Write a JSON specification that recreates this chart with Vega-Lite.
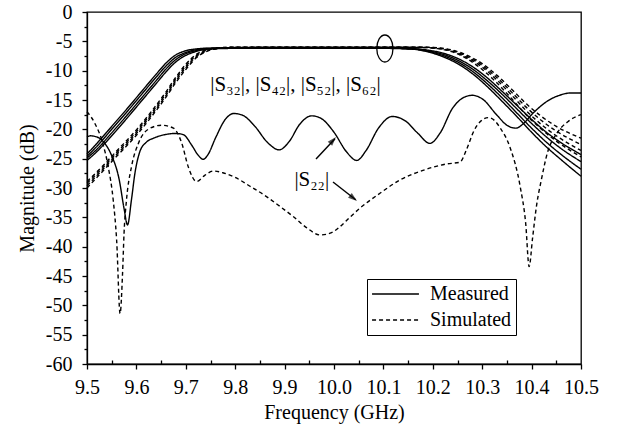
{
  "$schema": "https://vega.github.io/schema/vega-lite/v6.json",
  "width": 494,
  "height": 352,
  "autosize": "none",
  "padding": {"left": 87, "top": 12, "right": 40, "bottom": 68},
  "background": "white",
  "config": {
    "view": {"stroke": "black", "strokeWidth": 1.3},
    "font": "Liberation Serif",
    "axis": {
      "domainColor": "black", "domainWidth": 1.3, "tickColor": "black", "tickWidth": 1.3,
      "labelColor": "black", "titleColor": "black", "labelFont": "Liberation Serif", "titleFont": "Liberation Serif",
      "labelFontSize": 20, "titleFontSize": 20, "titleFontWeight": "normal", "grid": false
    }
  },
  "resolve": {"axis": {"x": "independent", "y": "independent"}},
  "datasets": {
    "curves": [
      {"curve":"M32","type":"Measured","freq":9.50,"mag":-24.2},{"curve":"M32","type":"Measured","freq":9.52,"mag":-22.4},{"curve":"M32","type":"Measured","freq":9.55,"mag":-19.5},{"curve":"M32","type":"Measured","freq":9.58,"mag":-16.6},{"curve":"M32","type":"Measured","freq":9.61,"mag":-13.6},{"curve":"M32","type":"Measured","freq":9.64,"mag":-10.6},{"curve":"M32","type":"Measured","freq":9.66,"mag":-8.7},{"curve":"M32","type":"Measured","freq":9.68,"mag":-7.3},{"curve":"M32","type":"Measured","freq":9.70,"mag":-6.6},{"curve":"M32","type":"Measured","freq":9.72,"mag":-6.3},{"curve":"M32","type":"Measured","freq":9.75,"mag":-6.15},{"curve":"M32","type":"Measured","freq":9.80,"mag":-6.1},{"curve":"M32","type":"Measured","freq":9.90,"mag":-6.1},{"curve":"M32","type":"Measured","freq":10.00,"mag":-6.1},{"curve":"M32","type":"Measured","freq":10.10,"mag":-6.15},{"curve":"M32","type":"Measured","freq":10.16,"mag":-6.25},{"curve":"M32","type":"Measured","freq":10.19,"mag":-6.5},{"curve":"M32","type":"Measured","freq":10.22,"mag":-7.0},{"curve":"M32","type":"Measured","freq":10.25,"mag":-7.9},{"curve":"M32","type":"Measured","freq":10.28,"mag":-9.3},{"curve":"M32","type":"Measured","freq":10.31,"mag":-11.2},{"curve":"M32","type":"Measured","freq":10.34,"mag":-13.5},{"curve":"M32","type":"Measured","freq":10.37,"mag":-15.9},{"curve":"M32","type":"Measured","freq":10.40,"mag":-18.3},{"curve":"M32","type":"Measured","freq":10.43,"mag":-20.5},{"curve":"M32","type":"Measured","freq":10.46,"mag":-22.3},{"curve":"M32","type":"Measured","freq":10.50,"mag":-24.3},
      {"curve":"M42","type":"Measured","freq":9.50,"mag":-24.6},{"curve":"M42","type":"Measured","freq":9.52,"mag":-22.9},{"curve":"M42","type":"Measured","freq":9.55,"mag":-20.0},{"curve":"M42","type":"Measured","freq":9.58,"mag":-17.1},{"curve":"M42","type":"Measured","freq":9.61,"mag":-14.1},{"curve":"M42","type":"Measured","freq":9.64,"mag":-11.1},{"curve":"M42","type":"Measured","freq":9.66,"mag":-9.2},{"curve":"M42","type":"Measured","freq":9.68,"mag":-7.7},{"curve":"M42","type":"Measured","freq":9.70,"mag":-6.9},{"curve":"M42","type":"Measured","freq":9.72,"mag":-6.45},{"curve":"M42","type":"Measured","freq":9.75,"mag":-6.2},{"curve":"M42","type":"Measured","freq":9.80,"mag":-6.15},{"curve":"M42","type":"Measured","freq":9.90,"mag":-6.15},{"curve":"M42","type":"Measured","freq":10.00,"mag":-6.15},{"curve":"M42","type":"Measured","freq":10.10,"mag":-6.15},{"curve":"M42","type":"Measured","freq":10.16,"mag":-6.3},{"curve":"M42","type":"Measured","freq":10.19,"mag":-6.6},{"curve":"M42","type":"Measured","freq":10.22,"mag":-7.2},{"curve":"M42","type":"Measured","freq":10.25,"mag":-8.2},{"curve":"M42","type":"Measured","freq":10.28,"mag":-9.7},{"curve":"M42","type":"Measured","freq":10.31,"mag":-11.7},{"curve":"M42","type":"Measured","freq":10.34,"mag":-14.0},{"curve":"M42","type":"Measured","freq":10.37,"mag":-16.5},{"curve":"M42","type":"Measured","freq":10.40,"mag":-19.0},{"curve":"M42","type":"Measured","freq":10.43,"mag":-21.3},{"curve":"M42","type":"Measured","freq":10.46,"mag":-23.3},{"curve":"M42","type":"Measured","freq":10.50,"mag":-25.5},
      {"curve":"M52","type":"Measured","freq":9.50,"mag":-24.9},{"curve":"M52","type":"Measured","freq":9.52,"mag":-23.4},{"curve":"M52","type":"Measured","freq":9.55,"mag":-20.6},{"curve":"M52","type":"Measured","freq":9.58,"mag":-17.7},{"curve":"M52","type":"Measured","freq":9.61,"mag":-14.7},{"curve":"M52","type":"Measured","freq":9.64,"mag":-11.7},{"curve":"M52","type":"Measured","freq":9.66,"mag":-9.7},{"curve":"M52","type":"Measured","freq":9.68,"mag":-8.1},{"curve":"M52","type":"Measured","freq":9.70,"mag":-7.1},{"curve":"M52","type":"Measured","freq":9.72,"mag":-6.6},{"curve":"M52","type":"Measured","freq":9.75,"mag":-6.25},{"curve":"M52","type":"Measured","freq":9.80,"mag":-6.15},{"curve":"M52","type":"Measured","freq":9.90,"mag":-6.15},{"curve":"M52","type":"Measured","freq":10.00,"mag":-6.15},{"curve":"M52","type":"Measured","freq":10.10,"mag":-6.15},{"curve":"M52","type":"Measured","freq":10.16,"mag":-6.3},{"curve":"M52","type":"Measured","freq":10.19,"mag":-6.7},{"curve":"M52","type":"Measured","freq":10.22,"mag":-7.4},{"curve":"M52","type":"Measured","freq":10.25,"mag":-8.5},{"curve":"M52","type":"Measured","freq":10.28,"mag":-10.1},{"curve":"M52","type":"Measured","freq":10.31,"mag":-12.2},{"curve":"M52","type":"Measured","freq":10.34,"mag":-14.6},{"curve":"M52","type":"Measured","freq":10.37,"mag":-17.2},{"curve":"M52","type":"Measured","freq":10.40,"mag":-19.8},{"curve":"M52","type":"Measured","freq":10.43,"mag":-22.2},{"curve":"M52","type":"Measured","freq":10.46,"mag":-24.3},{"curve":"M52","type":"Measured","freq":10.50,"mag":-26.8},
      {"curve":"M62","type":"Measured","freq":9.50,"mag":-25.3},{"curve":"M62","type":"Measured","freq":9.52,"mag":-23.8},{"curve":"M62","type":"Measured","freq":9.55,"mag":-21.1},{"curve":"M62","type":"Measured","freq":9.58,"mag":-18.2},{"curve":"M62","type":"Measured","freq":9.61,"mag":-15.2},{"curve":"M62","type":"Measured","freq":9.64,"mag":-12.2},{"curve":"M62","type":"Measured","freq":9.66,"mag":-10.2},{"curve":"M62","type":"Measured","freq":9.68,"mag":-8.5},{"curve":"M62","type":"Measured","freq":9.70,"mag":-7.4},{"curve":"M62","type":"Measured","freq":9.72,"mag":-6.75},{"curve":"M62","type":"Measured","freq":9.75,"mag":-6.3},{"curve":"M62","type":"Measured","freq":9.80,"mag":-6.2},{"curve":"M62","type":"Measured","freq":9.90,"mag":-6.2},{"curve":"M62","type":"Measured","freq":10.00,"mag":-6.2},{"curve":"M62","type":"Measured","freq":10.10,"mag":-6.2},{"curve":"M62","type":"Measured","freq":10.16,"mag":-6.35},{"curve":"M62","type":"Measured","freq":10.19,"mag":-6.8},{"curve":"M62","type":"Measured","freq":10.22,"mag":-7.6},{"curve":"M62","type":"Measured","freq":10.25,"mag":-8.8},{"curve":"M62","type":"Measured","freq":10.28,"mag":-10.5},{"curve":"M62","type":"Measured","freq":10.31,"mag":-12.7},{"curve":"M62","type":"Measured","freq":10.34,"mag":-15.2},{"curve":"M62","type":"Measured","freq":10.37,"mag":-17.8},{"curve":"M62","type":"Measured","freq":10.40,"mag":-20.5},{"curve":"M62","type":"Measured","freq":10.43,"mag":-23.0},{"curve":"M62","type":"Measured","freq":10.46,"mag":-25.2},{"curve":"M62","type":"Measured","freq":10.50,"mag":-28.0},
      {"curve":"S32","type":"Simulated","freq":9.50,"mag":-28.9},{"curve":"S32","type":"Simulated","freq":9.53,"mag":-26.4},{"curve":"S32","type":"Simulated","freq":9.56,"mag":-23.7},{"curve":"S32","type":"Simulated","freq":9.60,"mag":-20.1},{"curve":"S32","type":"Simulated","freq":9.63,"mag":-17.0},{"curve":"S32","type":"Simulated","freq":9.66,"mag":-13.6},{"curve":"S32","type":"Simulated","freq":9.68,"mag":-11.1},{"curve":"S32","type":"Simulated","freq":9.70,"mag":-8.9},{"curve":"S32","type":"Simulated","freq":9.72,"mag":-7.3},{"curve":"S32","type":"Simulated","freq":9.74,"mag":-6.5},{"curve":"S32","type":"Simulated","freq":9.76,"mag":-6.15},{"curve":"S32","type":"Simulated","freq":9.80,"mag":-6.0},{"curve":"S32","type":"Simulated","freq":9.90,"mag":-6.0},{"curve":"S32","type":"Simulated","freq":10.00,"mag":-6.0},{"curve":"S32","type":"Simulated","freq":10.10,"mag":-6.0},{"curve":"S32","type":"Simulated","freq":10.18,"mag":-6.0},{"curve":"S32","type":"Simulated","freq":10.21,"mag":-6.1},{"curve":"S32","type":"Simulated","freq":10.24,"mag":-6.5},{"curve":"S32","type":"Simulated","freq":10.27,"mag":-7.4},{"curve":"S32","type":"Simulated","freq":10.30,"mag":-8.8},{"curve":"S32","type":"Simulated","freq":10.33,"mag":-10.8},{"curve":"S32","type":"Simulated","freq":10.36,"mag":-13.2},{"curve":"S32","type":"Simulated","freq":10.39,"mag":-15.7},{"curve":"S32","type":"Simulated","freq":10.42,"mag":-17.8},{"curve":"S32","type":"Simulated","freq":10.45,"mag":-19.5},{"curve":"S32","type":"Simulated","freq":10.50,"mag":-21.5},
      {"curve":"S42","type":"Simulated","freq":9.50,"mag":-29.2},{"curve":"S42","type":"Simulated","freq":9.53,"mag":-26.7},{"curve":"S42","type":"Simulated","freq":9.56,"mag":-24.0},{"curve":"S42","type":"Simulated","freq":9.60,"mag":-20.4},{"curve":"S42","type":"Simulated","freq":9.63,"mag":-17.3},{"curve":"S42","type":"Simulated","freq":9.66,"mag":-13.9},{"curve":"S42","type":"Simulated","freq":9.68,"mag":-11.4},{"curve":"S42","type":"Simulated","freq":9.70,"mag":-9.2},{"curve":"S42","type":"Simulated","freq":9.72,"mag":-7.5},{"curve":"S42","type":"Simulated","freq":9.74,"mag":-6.6},{"curve":"S42","type":"Simulated","freq":9.76,"mag":-6.2},{"curve":"S42","type":"Simulated","freq":9.80,"mag":-6.0},{"curve":"S42","type":"Simulated","freq":9.90,"mag":-6.0},{"curve":"S42","type":"Simulated","freq":10.00,"mag":-6.0},{"curve":"S42","type":"Simulated","freq":10.10,"mag":-6.0},{"curve":"S42","type":"Simulated","freq":10.18,"mag":-6.0},{"curve":"S42","type":"Simulated","freq":10.21,"mag":-6.15},{"curve":"S42","type":"Simulated","freq":10.24,"mag":-6.6},{"curve":"S42","type":"Simulated","freq":10.27,"mag":-7.6},{"curve":"S42","type":"Simulated","freq":10.30,"mag":-9.1},{"curve":"S42","type":"Simulated","freq":10.33,"mag":-11.2},{"curve":"S42","type":"Simulated","freq":10.36,"mag":-13.7},{"curve":"S42","type":"Simulated","freq":10.39,"mag":-16.3},{"curve":"S42","type":"Simulated","freq":10.42,"mag":-18.5},{"curve":"S42","type":"Simulated","freq":10.45,"mag":-20.3},{"curve":"S42","type":"Simulated","freq":10.50,"mag":-22.6},
      {"curve":"S52","type":"Simulated","freq":9.50,"mag":-29.6},{"curve":"S52","type":"Simulated","freq":9.53,"mag":-27.0},{"curve":"S52","type":"Simulated","freq":9.56,"mag":-24.3},{"curve":"S52","type":"Simulated","freq":9.60,"mag":-20.7},{"curve":"S52","type":"Simulated","freq":9.63,"mag":-17.6},{"curve":"S52","type":"Simulated","freq":9.66,"mag":-14.2},{"curve":"S52","type":"Simulated","freq":9.68,"mag":-11.7},{"curve":"S52","type":"Simulated","freq":9.70,"mag":-9.5},{"curve":"S52","type":"Simulated","freq":9.72,"mag":-7.7},{"curve":"S52","type":"Simulated","freq":9.74,"mag":-6.7},{"curve":"S52","type":"Simulated","freq":9.76,"mag":-6.25},{"curve":"S52","type":"Simulated","freq":9.80,"mag":-6.05},{"curve":"S52","type":"Simulated","freq":9.90,"mag":-6.0},{"curve":"S52","type":"Simulated","freq":10.00,"mag":-6.0},{"curve":"S52","type":"Simulated","freq":10.10,"mag":-6.0},{"curve":"S52","type":"Simulated","freq":10.18,"mag":-6.05},{"curve":"S52","type":"Simulated","freq":10.21,"mag":-6.2},{"curve":"S52","type":"Simulated","freq":10.24,"mag":-6.7},{"curve":"S52","type":"Simulated","freq":10.27,"mag":-7.8},{"curve":"S52","type":"Simulated","freq":10.30,"mag":-9.4},{"curve":"S52","type":"Simulated","freq":10.33,"mag":-11.6},{"curve":"S52","type":"Simulated","freq":10.36,"mag":-14.2},{"curve":"S52","type":"Simulated","freq":10.39,"mag":-16.9},{"curve":"S52","type":"Simulated","freq":10.42,"mag":-19.2},{"curve":"S52","type":"Simulated","freq":10.45,"mag":-21.1},{"curve":"S52","type":"Simulated","freq":10.50,"mag":-23.6},
      {"curve":"S62","type":"Simulated","freq":9.50,"mag":-30.0},{"curve":"S62","type":"Simulated","freq":9.53,"mag":-27.3},{"curve":"S62","type":"Simulated","freq":9.56,"mag":-24.6},{"curve":"S62","type":"Simulated","freq":9.60,"mag":-21.0},{"curve":"S62","type":"Simulated","freq":9.63,"mag":-17.9},{"curve":"S62","type":"Simulated","freq":9.66,"mag":-14.5},{"curve":"S62","type":"Simulated","freq":9.68,"mag":-12.0},{"curve":"S62","type":"Simulated","freq":9.70,"mag":-9.8},{"curve":"S62","type":"Simulated","freq":9.72,"mag":-7.9},{"curve":"S62","type":"Simulated","freq":9.74,"mag":-6.8},{"curve":"S62","type":"Simulated","freq":9.76,"mag":-6.3},{"curve":"S62","type":"Simulated","freq":9.80,"mag":-6.05},{"curve":"S62","type":"Simulated","freq":9.90,"mag":-6.0},{"curve":"S62","type":"Simulated","freq":10.00,"mag":-6.0},{"curve":"S62","type":"Simulated","freq":10.10,"mag":-6.0},{"curve":"S62","type":"Simulated","freq":10.18,"mag":-6.05},{"curve":"S62","type":"Simulated","freq":10.21,"mag":-6.25},{"curve":"S62","type":"Simulated","freq":10.24,"mag":-6.8},{"curve":"S62","type":"Simulated","freq":10.27,"mag":-8.0},{"curve":"S62","type":"Simulated","freq":10.30,"mag":-9.8},{"curve":"S62","type":"Simulated","freq":10.33,"mag":-12.1},{"curve":"S62","type":"Simulated","freq":10.36,"mag":-14.8},{"curve":"S62","type":"Simulated","freq":10.39,"mag":-17.6},{"curve":"S62","type":"Simulated","freq":10.42,"mag":-20.0},{"curve":"S62","type":"Simulated","freq":10.45,"mag":-22.0},{"curve":"S62","type":"Simulated","freq":10.50,"mag":-24.7},
      {"curve":"M22","type":"Measured","freq":9.500,"mag":-21.3},{"curve":"M22","type":"Measured","freq":9.507,"mag":-21.1},{"curve":"M22","type":"Measured","freq":9.520,"mag":-21.3},{"curve":"M22","type":"Measured","freq":9.533,"mag":-22.1},{"curve":"M22","type":"Measured","freq":9.550,"mag":-24.5},{"curve":"M22","type":"Measured","freq":9.565,"mag":-28.5},{"curve":"M22","type":"Measured","freq":9.575,"mag":-33.5},{"curve":"M22","type":"Measured","freq":9.582,"mag":-36.3},{"curve":"M22","type":"Measured","freq":9.590,"mag":-32.0},{"curve":"M22","type":"Measured","freq":9.597,"mag":-27.5},{"curve":"M22","type":"Measured","freq":9.607,"mag":-23.8},{"curve":"M22","type":"Measured","freq":9.620,"mag":-22.2},{"curve":"M22","type":"Measured","freq":9.635,"mag":-21.5},{"curve":"M22","type":"Measured","freq":9.658,"mag":-20.9},{"curve":"M22","type":"Measured","freq":9.680,"mag":-20.7},{"curve":"M22","type":"Measured","freq":9.695,"mag":-20.9},{"curve":"M22","type":"Measured","freq":9.712,"mag":-22.7},{"curve":"M22","type":"Measured","freq":9.725,"mag":-24.4},{"curve":"M22","type":"Measured","freq":9.735,"mag":-25.1},{"curve":"M22","type":"Measured","freq":9.745,"mag":-24.3},{"curve":"M22","type":"Measured","freq":9.760,"mag":-21.5},{"curve":"M22","type":"Measured","freq":9.780,"mag":-18.3},{"curve":"M22","type":"Measured","freq":9.797,"mag":-17.3},{"curve":"M22","type":"Measured","freq":9.815,"mag":-17.6},{"curve":"M22","type":"Measured","freq":9.840,"mag":-19.5},{"curve":"M22","type":"Measured","freq":9.865,"mag":-22.2},{"curve":"M22","type":"Measured","freq":9.889,"mag":-23.5},{"curve":"M22","type":"Measured","freq":9.910,"mag":-22.0},{"curve":"M22","type":"Measured","freq":9.930,"mag":-19.2},{"curve":"M22","type":"Measured","freq":9.955,"mag":-17.7},{"curve":"M22","type":"Measured","freq":9.975,"mag":-18.2},{"curve":"M22","type":"Measured","freq":10.000,"mag":-20.5},{"curve":"M22","type":"Measured","freq":10.025,"mag":-23.8},{"curve":"M22","type":"Measured","freq":10.046,"mag":-25.3},{"curve":"M22","type":"Measured","freq":10.065,"mag":-23.6},{"curve":"M22","type":"Measured","freq":10.090,"mag":-19.8},{"curve":"M22","type":"Measured","freq":10.118,"mag":-17.8},{"curve":"M22","type":"Measured","freq":10.145,"mag":-18.6},{"curve":"M22","type":"Measured","freq":10.170,"mag":-20.7},{"curve":"M22","type":"Measured","freq":10.194,"mag":-22.4},{"curve":"M22","type":"Measured","freq":10.215,"mag":-20.6},{"curve":"M22","type":"Measured","freq":10.240,"mag":-16.4},{"curve":"M22","type":"Measured","freq":10.262,"mag":-14.6},{"curve":"M22","type":"Measured","freq":10.280,"mag":-14.2},{"curve":"M22","type":"Measured","freq":10.300,"mag":-14.8},{"curve":"M22","type":"Measured","freq":10.330,"mag":-17.6},{"curve":"M22","type":"Measured","freq":10.350,"mag":-19.3},{"curve":"M22","type":"Measured","freq":10.368,"mag":-19.8},{"curve":"M22","type":"Measured","freq":10.385,"mag":-18.9},{"curve":"M22","type":"Measured","freq":10.400,"mag":-17.5},{"curve":"M22","type":"Measured","freq":10.430,"mag":-15.3},{"curve":"M22","type":"Measured","freq":10.460,"mag":-14.1},{"curve":"M22","type":"Measured","freq":10.480,"mag":-13.8},{"curve":"M22","type":"Measured","freq":10.500,"mag":-13.8},
      {"curve":"S22","type":"Simulated","freq":9.500,"mag":-17.0},{"curve":"S22","type":"Simulated","freq":9.516,"mag":-19.0},{"curve":"S22","type":"Simulated","freq":9.532,"mag":-22.4},{"curve":"S22","type":"Simulated","freq":9.543,"mag":-26.4},{"curve":"S22","type":"Simulated","freq":9.553,"mag":-32.0},{"curve":"S22","type":"Simulated","freq":9.560,"mag":-38.9},{"curve":"S22","type":"Simulated","freq":9.567,"mag":-51.4},{"curve":"S22","type":"Simulated","freq":9.572,"mag":-44.5},{"curve":"S22","type":"Simulated","freq":9.575,"mag":-37.7},{"curve":"S22","type":"Simulated","freq":9.580,"mag":-32.0},{"curve":"S22","type":"Simulated","freq":9.590,"mag":-26.4},{"curve":"S22","type":"Simulated","freq":9.604,"mag":-22.4},{"curve":"S22","type":"Simulated","freq":9.624,"mag":-20.0},{"curve":"S22","type":"Simulated","freq":9.651,"mag":-19.3},{"curve":"S22","type":"Simulated","freq":9.675,"mag":-19.8},{"curve":"S22","type":"Simulated","freq":9.692,"mag":-22.4},{"curve":"S22","type":"Simulated","freq":9.705,"mag":-26.4},{"curve":"S22","type":"Simulated","freq":9.722,"mag":-28.9},{"curve":"S22","type":"Simulated","freq":9.739,"mag":-27.8},{"curve":"S22","type":"Simulated","freq":9.756,"mag":-27.1},{"curve":"S22","type":"Simulated","freq":9.775,"mag":-27.4},{"curve":"S22","type":"Simulated","freq":9.800,"mag":-28.2},{"curve":"S22","type":"Simulated","freq":9.830,"mag":-29.7},{"curve":"S22","type":"Simulated","freq":9.864,"mag":-31.5},{"curve":"S22","type":"Simulated","freq":9.890,"mag":-33.1},{"curve":"S22","type":"Simulated","freq":9.918,"mag":-34.9},{"curve":"S22","type":"Simulated","freq":9.945,"mag":-36.8},{"curve":"S22","type":"Simulated","freq":9.972,"mag":-38.0},{"curve":"S22","type":"Simulated","freq":9.995,"mag":-37.6},{"curve":"S22","type":"Simulated","freq":10.012,"mag":-36.6},{"curve":"S22","type":"Simulated","freq":10.032,"mag":-35.0},{"curve":"S22","type":"Simulated","freq":10.053,"mag":-33.4},{"curve":"S22","type":"Simulated","freq":10.093,"mag":-30.9},{"curve":"S22","type":"Simulated","freq":10.134,"mag":-28.6},{"curve":"S22","type":"Simulated","freq":10.180,"mag":-27.0},{"curve":"S22","type":"Simulated","freq":10.228,"mag":-25.9},{"curve":"S22","type":"Simulated","freq":10.255,"mag":-25.6},{"curve":"S22","type":"Simulated","freq":10.268,"mag":-23.5},{"curve":"S22","type":"Simulated","freq":10.283,"mag":-20.3},{"curve":"S22","type":"Simulated","freq":10.297,"mag":-18.6},{"curve":"S22","type":"Simulated","freq":10.312,"mag":-18.0},{"curve":"S22","type":"Simulated","freq":10.325,"mag":-18.5},{"curve":"S22","type":"Simulated","freq":10.336,"mag":-19.7},{"curve":"S22","type":"Simulated","freq":10.356,"mag":-23.0},{"curve":"S22","type":"Simulated","freq":10.377,"mag":-29.8},{"curve":"S22","type":"Simulated","freq":10.388,"mag":-36.0},{"curve":"S22","type":"Simulated","freq":10.395,"mag":-43.4},{"curve":"S22","type":"Simulated","freq":10.402,"mag":-38.5},{"curve":"S22","type":"Simulated","freq":10.410,"mag":-33.0},{"curve":"S22","type":"Simulated","freq":10.420,"mag":-28.5},{"curve":"S22","type":"Simulated","freq":10.432,"mag":-24.0},{"curve":"S22","type":"Simulated","freq":10.451,"mag":-20.7},{"curve":"S22","type":"Simulated","freq":10.475,"mag":-18.6},{"curve":"S22","type":"Simulated","freq":10.500,"mag":-17.5}
    ],
    "labels": [
      {"freq": 9.922, "mag": -12.4, "label": "|S₃₂|, |S₄₂|, |S₅₂|, |S₆₂|"},
      {"freq": 9.955, "mag": -28.6, "label": "|S₂₂|"}
    ],
    "arrows": [
      {"freq": 9.9636, "mag": -25.05, "freq2": 10.002, "mag2": -21.6},
      {"freq": 9.998, "mag": -28.98, "freq2": 10.044, "mag2": -32.0}
    ],
    "head1": [{"freq": 10.004, "mag": -21.3}],
    "head2": [{"freq": 10.0466, "mag": -32.2}],
    "ring": [{"freq": 10.103, "mag": -6.22}]
  },
  "layer": [
    {
      "data": {"name": "curves"},
      "mark": {"type": "line", "color": "black", "strokeWidth": 1.4, "interpolate": "monotone"},
      "encoding": {
        "x": {
          "field": "freq", "type": "quantitative",
          "scale": {"domain": [9.5, 10.5], "nice": false, "zero": false},
          "axis": {
            "orient": "bottom",
            "title": "Frequency (GHz)",
            "values": [9.5, 9.6, 9.7, 9.8, 9.9, 10.0, 10.1, 10.2, 10.3, 10.4, 10.5],
            "format": ".1f",
            "tickSize": 5,
            "labelPadding": 8,
            "titlePadding": 5,
            "labelFlush": false,
            "labelOverlap": false
          }
        },
        "y": {
          "field": "mag", "type": "quantitative",
          "scale": {"domain": [-60, 0], "nice": false, "zero": false},
          "axis": {
            "orient": "left",
            "title": "Magnitude (dB)",
            "values": [-60, -55, -50, -45, -40, -35, -30, -25, -20, -15, -10, -5, 0],
            "labelExpr": "'' + datum.value",
            "tickSize": 5,
            "labelPadding": 10,
            "titlePadding": 8,
            "labelFlush": false,
            "labelOverlap": false
          }
        },
        "detail": {"field": "curve"},
        "strokeDash": {
          "field": "type", "type": "nominal",
          "scale": {"domain": ["Measured", "Simulated"], "range": [[1, 0], [4, 3]]},
          "legend": {
            "orient": "none", "legendX": 280, "legendY": 267, "title": null,
            "symbolType": "stroke", "symbolSize": 2200, "symbolStrokeWidth": 1.4, "symbolStrokeColor": "black",
            "clipHeight": 22,
            "labelFont": "Liberation Serif", "labelFontSize": 20, "labelColor": "black", "labelOffset": 10,
            "strokeColor": "black", "fillColor": "white", "padding": 4, "rowPadding": 4
          }
        }
      }
    },
    {
      "data": {"name": "labels"},
      "mark": {"type": "text", "font": "Liberation Serif", "fontSize": 21, "color": "black", "baseline": "middle", "align": "center"},
      "encoding": {
        "x": {"field": "freq", "type": "quantitative", "axis": null},
        "y": {"field": "mag", "type": "quantitative", "axis": null},
        "text": {"field": "label"}
      }
    },
    {
      "data": {"name": "arrows"},
      "mark": {"type": "rule", "color": "black", "strokeWidth": 1.4},
      "encoding": {
        "x": {"field": "freq", "type": "quantitative", "axis": null},
        "y": {"field": "mag", "type": "quantitative", "axis": null},
        "x2": {"field": "freq2"},
        "y2": {"field": "mag2"}
      }
    },
    {
      "data": {"name": "head1"},
      "mark": {"type": "point", "shape": "M0,0L-0.6,1.8L0.6,1.8Z", "size": 100, "filled": true, "color": "black", "angle": 42},
      "encoding": {
        "x": {"field": "freq", "type": "quantitative", "axis": null},
        "y": {"field": "mag", "type": "quantitative", "axis": null}
      }
    },
    {
      "data": {"name": "head2"},
      "mark": {"type": "point", "shape": "M0,0L-0.6,1.8L0.6,1.8Z", "size": 100, "filled": true, "color": "black", "angle": 128},
      "encoding": {
        "x": {"field": "freq", "type": "quantitative", "axis": null},
        "y": {"field": "mag", "type": "quantitative", "axis": null}
      }
    },
    {
      "data": {"name": "ring"},
      "mark": {"type": "point", "shape": "M0,-1C0.331,-1,0.6,-0.552,0.6,0C0.6,0.552,0.331,1,0,1C-0.331,1,-0.6,0.552,-0.6,0C-0.6,-0.552,-0.331,-1,0,-1Z", "size": 729, "filled": false, "color": "black", "strokeWidth": 1.3, "opacity": 1},
      "encoding": {
        "x": {
          "field": "freq", "type": "quantitative",
          "axis": {"orient": "bottom", "title": null, "labels": false, "domain": false, "tickSize": -4,
                   "values": [9.55, 9.65, 9.75, 9.85, 9.95, 10.05, 10.15, 10.25, 10.35, 10.45]}
        },
        "y": {
          "field": "mag", "type": "quantitative",
          "axis": {"orient": "left", "title": null, "labels": false, "domain": false, "tickSize": 3,
                   "values": [-57.5, -52.5, -47.5, -42.5, -37.5, -32.5, -27.5, -22.5, -17.5, -12.5, -7.5, -2.5]}
        }
      }
    }
  ]
}
